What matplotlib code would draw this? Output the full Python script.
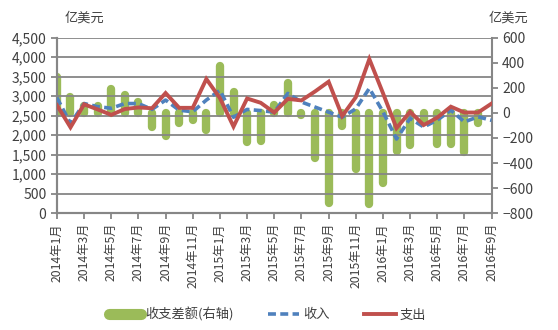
import numpy as np
import matplotlib
matplotlib.use("Agg")
import matplotlib.pyplot as plt
from matplotlib.lines import Line2D
from matplotlib.ticker import FuncFormatter

plt.rcParams['font.family'] = ['Noto Sans CJK SC', 'DejaVu Sans']
plt.rcParams['axes.unicode_minus'] = False

# monthly data, 2014年1月 - 2016年9月 (亿美元)
months = [f"{y}年{m}月" for y in (2014, 2015, 2016) for m in range(1, 13)][:33]

income = [2960, 2300, 2810, 2730, 2690, 2810, 2810, 2660, 2900, 2640, 2600, 2900,
          3150, 2460, 2660, 2630, 2590, 3070, 2850, 2720, 2590, 2460, 2675, 3200,
          2600, 1900, 2430, 2210, 2385, 2640, 2340, 2470, 2380]

expense = [2770, 2200, 2790, 2660, 2520, 2670, 2710, 2690, 3080, 2700, 2700, 3440,
           2950, 2220, 2940, 2830, 2580, 2930, 2890, 3120, 3370, 2490, 2970, 3950,
           3080, 2180, 2600, 2260, 2450, 2730, 2580, 2580, 2810]

balance = [287, 125, 58, 53, 190, 141, 85, -112, -186, -80, -58, -138,
           377, 165, -235, -222, 60, 240, -20, -360, -720, -105, -445, -730,
           -560, -305, -255, -70, -245, -245, -311, -77, np.nan]

GREEN = '#9bbb59'
BLUE = '#4f81bd'
RED = '#c0504d'
GRAY = '#868686'
TXT = '#404040'

x = np.arange(len(months))

fig = plt.figure(figsize=(5.58, 3.30), dpi=100)
ax = fig.add_axes([0.102, 0.354, 0.779, 0.532])
ax2 = ax.twinx()

# left axis: income / expense lines; right axis: balance bars
ax.set_zorder(ax2.get_zorder() + 1)
ax.patch.set_visible(False)

ax2.vlines(x, 0, balance, colors=GREEN, linewidth=6, capstyle='round', zorder=2)
ax.plot(x, income, color=BLUE, lw=2.6, ls=(0, (2.2, 1.2)), zorder=3)
ax.plot(x, expense, color=RED, lw=2.8, zorder=4, solid_joinstyle='miter')

ax.set_xlim(0, len(months) - 1)
ax.set_ylim(0, 4500)
ax.set_yticks(np.arange(0, 4501, 500))
ax.yaxis.set_major_formatter(FuncFormatter(lambda v, p: f"{int(v):,}"))
ax2.set_ylim(-800, 600)
ax2.set_yticks(np.arange(-800, 601, 200))
ax2.yaxis.set_major_formatter(FuncFormatter(lambda v, p: f"{int(v)}".replace('-', '\u2212')))

ax.set_xticks(x[::2])
ax.set_xticklabels(months[::2], rotation=90)
ax.grid(axis='y', color=GRAY, lw=1.3)

for a in (ax, ax2):
    for s in a.spines.values():
        s.set_color(GRAY)
        s.set_linewidth(1.5)
    a.spines['top'].set_visible(False)
    a.tick_params(colors=GRAY, width=1.3, length=4, labelsize=10, labelcolor=TXT)
ax.tick_params(axis='x', length=4, pad=3, labelsize=8.8)
ax.spines['right'].set_visible(False)

fig.text(0.115, 0.935, '亿美元', fontsize=9.5, color=TXT)
fig.text(0.875, 0.935, '亿美元', fontsize=9.5, color=TXT)

handles = [Line2D([], [], color=GREEN, lw=8, solid_capstyle='round'),
           Line2D([], [], color=BLUE, lw=2.6, ls=(0, (2.2, 1.2))),
           Line2D([], [], color=RED, lw=2.8)]
fig.legend(handles, ['收支差额(右轴)', '收入', '支出'], loc='lower center',
           bbox_to_anchor=(0.48, -0.01), ncol=3, frameon=False, fontsize=9.5,
           handlelength=2.4, handletextpad=0.3, columnspacing=2.6, labelcolor=TXT)

fig.savefig('out.png', dpi=100)
